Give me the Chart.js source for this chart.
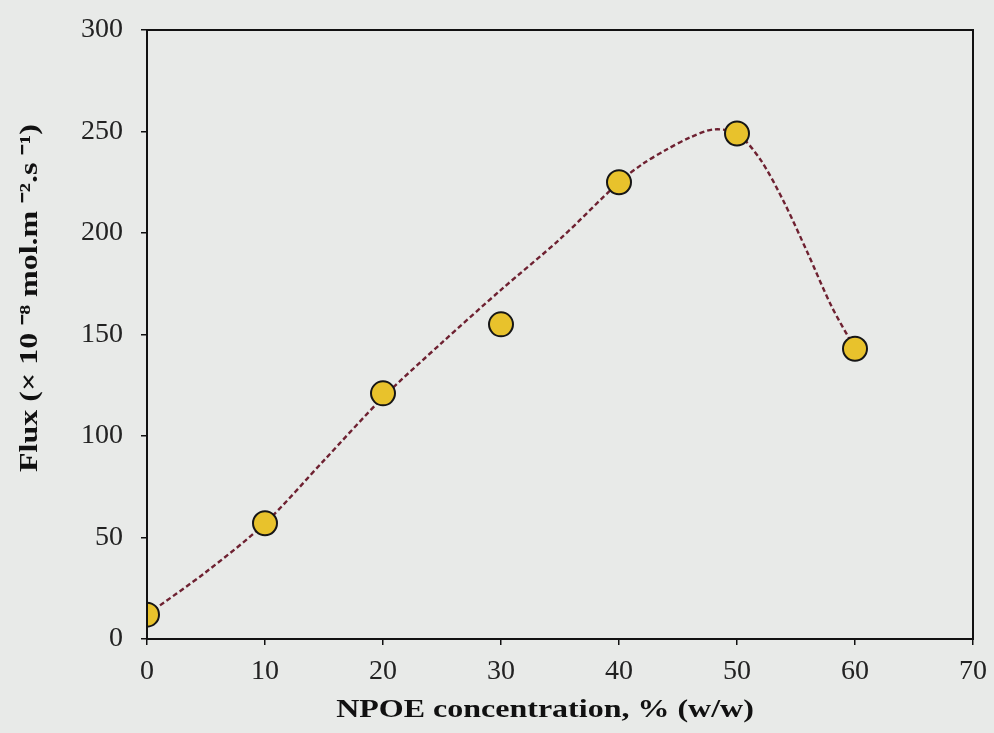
<!DOCTYPE html>
<html>
<head>
<meta charset="utf-8">
<script src="https://cdn.jsdelivr.net/npm/chart.js@4"></script>
<style>
  html, body { margin: 0; padding: 0; background: #e8eae8; }
  #wrap { width: 994px; height: 733px; }
</style>
</head>
<body>
<div id="wrap"><canvas id="fluxChart" width="994" height="733"></canvas></div>
<script>
// measured points
const npoeConc = [0, 10, 20, 30, 40, 50, 60];
const fluxValues = [12, 57, 121, 155, 225, 249, 143];

// dashed trend curve
const curveConc = [0, 5, 10, 15, 20, 25, 30, 35, 40, 42, 44, 46, 48, 50, 52, 54, 56, 58, 60];
const curveFlux = [12, 33, 57, 88, 119, 146, 172, 197, 225, 234, 241, 247, 251, 249, 236, 215, 190, 164, 143];

const xTicks = [0, 10, 20, 30, 40, 50, 60, 70];
const yTicks = [0, 50, 100, 150, 200, 250, 300];

const xTitle = 'NPOE concentration, % (w/w)';
const yTitle = 'Flux (× 10 ⁻⁸ mol.m ⁻².s ⁻¹)';

const serif = '"Liberation Serif", "Times New Roman", serif';

// full box around the plot + axis titles
const frameBox = {
    id: 'frameBox',
    afterDraw(chart) {
        const a = chart.chartArea, c = chart.ctx;
        c.save();
        c.strokeStyle = '#111';
        c.lineWidth = 2;
        c.strokeRect(a.left, a.top, a.right - a.left, a.bottom - a.top);

        c.fillStyle = '#111';
        c.font = 'bold 25px ' + serif;
        c.textAlign = 'center';
        c.textBaseline = 'middle';
        // x title, a bit wide like the scan
        c.save();
        c.translate(545, 711);
        c.scale(1.28, 1);
        c.fillText(xTitle, 0, 0);
        c.restore();
        // y title
        c.save();
        c.translate(31, 298);
        c.rotate(-Math.PI / 2);
        c.scale(1.28, 1);
        c.fillText(yTitle, 0, 0);
        c.restore();
        c.restore();
    }
};

const ctx = document.getElementById('fluxChart').getContext('2d');
new Chart(ctx, {
    type: 'scatter',
    data: {
        datasets: [
            {
                label: 'Flux',
                data: npoeConc.map((x, i) => ({ x: x, y: fluxValues[i] })),
                backgroundColor: '#e8c22c',
                borderColor: '#161616',
                borderWidth: 2,
                pointRadius: 12,
                order: 1
            },
            {
                label: 'fit',
                data: curveConc.map((x, i) => ({ x: x, y: curveFlux[i] })),
                showLine: true,
                borderColor: '#6e2131',
                borderWidth: 2.4,
                borderDash: [5, 3],
                tension: 0.3,
                pointRadius: 0,
                order: 2
            }
        ]
    },
    options: {
        responsive: false,
        animation: false,
        layout: { padding: { left: 0, right: 21, top: 30, bottom: 0 } },
        plugins: { legend: { display: false }, tooltip: { enabled: false } },
        scales: {
            x: {
                type: 'linear',
                min: 0, max: 70,
                afterBuildTicks: s => { s.ticks = xTicks.map(v => ({ value: v })); },
                afterFit: s => { s.height = 94; s.paddingLeft = 0; s.paddingRight = 0; },
                grid: { drawOnChartArea: false, drawTicks: true, tickLength: 6, tickColor: '#111', lineWidth: 1.5 },
                border: { color: '#111', width: 2 },
                ticks: { color: '#222', font: { family: serif, size: 28 }, padding: 10, maxRotation: 0 }
            },
            y: {
                min: 0, max: 300,
                afterBuildTicks: s => { s.ticks = yTicks.map(v => ({ value: v })); },
                afterFit: s => { s.width = 147; s.paddingTop = 0; s.paddingBottom = 0; },
                grid: { drawOnChartArea: false, drawTicks: true, tickLength: 6, tickColor: '#111', lineWidth: 1.5 },
                border: { color: '#111', width: 2 },
                ticks: { color: '#222', font: { family: serif, size: 28 }, padding: 18 }
            }
        }
    },
    plugins: [frameBox]
});
</script>
</body>
</html>
